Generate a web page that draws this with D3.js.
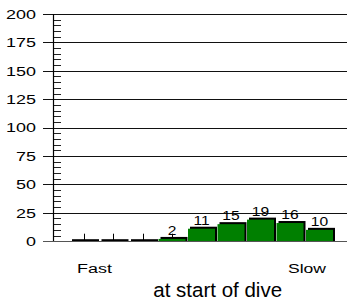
<!DOCTYPE html>
<html><head><meta charset="utf-8">
<script src="https://cdn.jsdelivr.net/npm/d3@7"></script>
<style>html,body{margin:0;padding:0;background:#fff;}svg{display:block;}</style>
</head><body>
<svg id="c" width="347" height="300"></svg>
<script>
const categories = ["1","2","3","4","5","6","7","8","9"];
const values = [0,0,0,2,11,15,19,16,10];
const yTicks = [0,25,50,75,100,125,150,175,200];
const xEndLabels = ["Fast","Slow"];
const xTitle = "at start of dive";

const svg = d3.select("#c");
const font = "Liberation Sans, Arial, sans-serif";
const y = d3.scaleLinear().domain([0,200]).range([241.2,14]);
const x = d3.scaleBand().domain(categories).range([68.75,334.25]).paddingInner(0.085).paddingOuter(0.0425);
const axisX = 53, gridL = 43, gridR = 347;

// gridlines
svg.append("g").selectAll("line").data(yTicks.filter(d=>d>0)).join("line")
  .attr("x1",gridL).attr("x2",gridR)
  .attr("y1",d=>Math.round(y(d))+0.5).attr("y2",d=>Math.round(y(d))+0.5)
  .attr("stroke","#111").attr("stroke-width",1);

// minor ticks
const minor = d3.range(5,200,5).filter(d=>d%25!==0);
svg.append("g").selectAll("line").data(minor).join("line")
  .attr("x1",axisX).attr("x2",axisX+8)
  .attr("y1",d=>Math.round(y(d))+0.5).attr("y2",d=>Math.round(y(d))+0.5)
  .attr("stroke","#222").attr("stroke-width",1);

// y axis line
svg.append("line").attr("x1",axisX+0.5).attr("x2",axisX+0.5).attr("y1",y(200)).attr("y2",y(0))
  .attr("stroke","#000").attr("stroke-width",1.2);

// y labels
svg.append("g").selectAll("text").data(yTicks).join("text")
  .attr("transform",d=>`translate(36,${y(d)+4.8}) scale(1.33,1)`)
  .attr("text-anchor","end").attr("font-family",font).attr("font-size",13.5)
  .attr("fill","#000").text(d=>d);

// center ticks behind bars
svg.append("g").selectAll("line").data(categories).join("line")
  .attr("x1",d=>Math.round(x(d)+x.bandwidth()/2)+0.5).attr("x2",d=>Math.round(x(d)+x.bandwidth()/2)+0.5)
  .attr("y1",y(0)).attr("y2",y(0)-7.5)
  .attr("stroke","#000").attr("stroke-width",1);

// bars: shadow + green
const bars = svg.append("g");
bars.selectAll("rect.s").data(values).join("rect").attr("class","s")
  .attr("x",(d,i)=>x(categories[i])+2).attr("y",d=>y(d)-2)
  .attr("width",x.bandwidth()).attr("height",d=>y(0)-y(d)+2).attr("fill","#000");
bars.selectAll("rect.g").data(values).join("rect").attr("class","g")
  .attr("x",(d,i)=>x(categories[i])).attr("y",d=>y(d))
  .attr("width",x.bandwidth()).attr("height",d=>y(0)-y(d)).attr("fill","#007f00");

// baseline
svg.append("line").attr("x1",gridL).attr("x2",gridR).attr("y1",241.5).attr("y2",241.5)
  .attr("stroke","#555").attr("stroke-width",1.2);

// value labels
svg.append("g").selectAll("text").data(values.map((v,i)=>({v,c:categories[i]})).filter(d=>d.v>0)).join("text")
  .attr("transform",d=>`translate(${x(d.c)+x.bandwidth()/2},${y(d.v)-3.8}) scale(1.2,1)`)
  .attr("text-anchor","middle").attr("font-family",font).attr("font-size",13)
  .attr("fill","#000").text(d=>d.v);

// end labels
svg.append("text").attr("transform","translate(77,272.7) scale(1.33,1)")
  .attr("font-family",font).attr("font-size",13.5).text(xEndLabels[0]);
svg.append("text").attr("transform","translate(326,272.7) scale(1.3,1)")
  .attr("text-anchor","end").attr("font-family",font).attr("font-size",13.5).text(xEndLabels[1]);

// axis title
svg.append("text").attr("x",217.7).attr("y",296.7).attr("text-anchor","middle")
  .attr("font-family",font).attr("font-size",20.5).text(xTitle);
</script>
</body></html>
